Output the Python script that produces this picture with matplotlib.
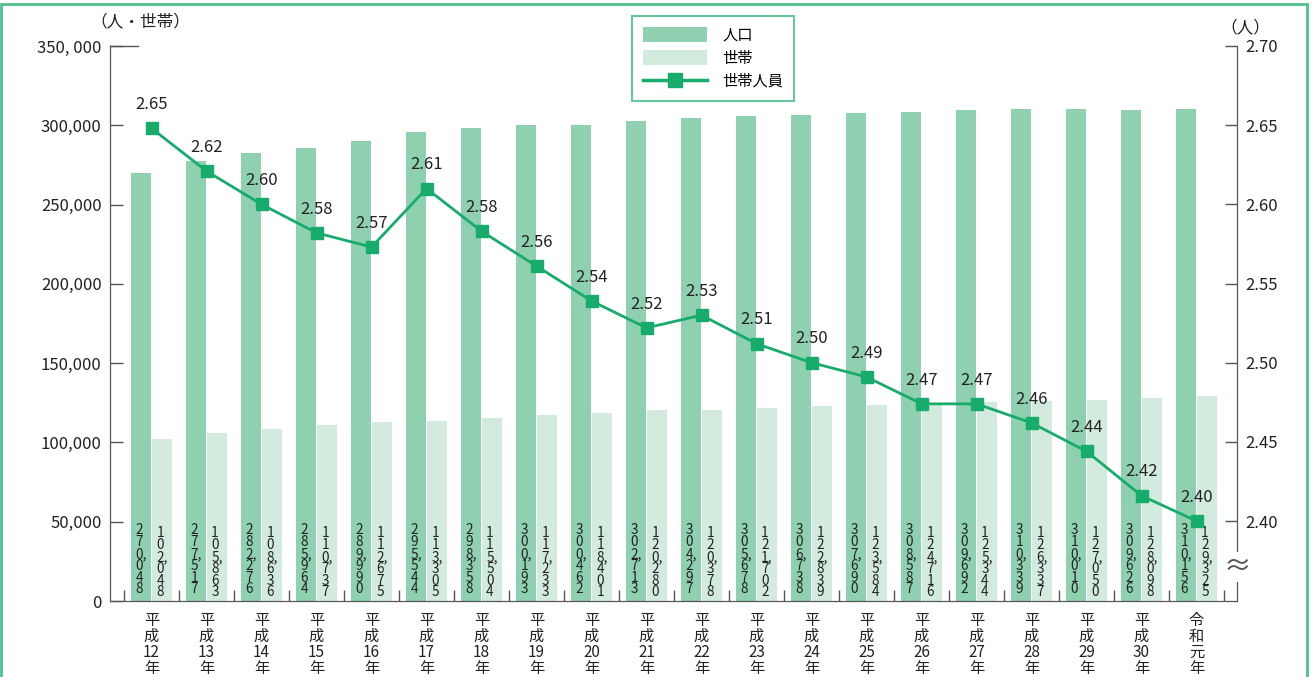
import numpy as np
import matplotlib
matplotlib.use("Agg")
import matplotlib.pyplot as plt
from matplotlib.patches import Rectangle, Patch
from matplotlib.lines import Line2D
import matplotlib.transforms as mtrans

plt.rcParams['font.family'] = ['Noto Sans CJK JP', 'DejaVu Sans']

years = ["平\n成\n12\n年", "平\n成\n13\n年", "平\n成\n14\n年", "平\n成\n15\n年", "平\n成\n16\n年",
         "平\n成\n17\n年", "平\n成\n18\n年", "平\n成\n19\n年", "平\n成\n20\n年", "平\n成\n21\n年",
         "平\n成\n22\n年", "平\n成\n23\n年", "平\n成\n24\n年", "平\n成\n25\n年", "平\n成\n26\n年",
         "平\n成\n27\n年", "平\n成\n28\n年", "平\n成\n29\n年", "平\n成\n30\n年", "令\n和\n元\n年"]
population = [270048, 277517, 282276, 285964, 289990, 295544, 298358, 300193, 300462, 302713,
              304297, 305678, 306738, 307690, 308587, 309692, 310339, 310010, 309626, 310156]
households = [102048, 105863, 108636, 110737, 112675, 113305, 115504, 117233, 118401, 120280,
              120378, 121702, 122839, 123584, 124716, 125344, 126337, 127050, 128098, 129325]
persons = [2.648, 2.621, 2.600, 2.582, 2.573, 2.610, 2.583, 2.561, 2.539, 2.522,
           2.530, 2.512, 2.500, 2.491, 2.474, 2.474, 2.462, 2.444, 2.416, 2.400]

c_pop = "#8fd0b1"
c_hh = "#d3ebdf"
c_line = "#17ab6c"
c_axis = "#555555"
c_text = "#222222"

fig = plt.figure(figsize=(13.13, 6.77), dpi=100)
ax = fig.add_axes([110 / 1313, 1 - 601 / 677, 1127 / 1313, 555 / 677])
ax2 = ax.twinx()

x = np.arange(len(years))
w = 0.36
ax.bar(x - 0.19, population, w, color=c_pop, zorder=1)
ax.bar(x + 0.19, households, w, color=c_hh, zorder=1)


# numbers written downward inside the bars, one digit per row
def stacked(v):
    s = f"{v:,}"
    out = []
    for ch in s:
        if ch == "," and out:
            out[-1] += ","
        else:
            out.append(ch)
    return "\n".join(out)


for i in x:
    ax.text(i - 0.19, 49000, stacked(population[i]), ha="center", va="top",
            fontsize=9.8, linespacing=0.8, color=c_text, multialignment="left", zorder=3)
    ax.text(i + 0.19, 47000, stacked(households[i]), ha="center", va="top",
            fontsize=9.8, linespacing=0.8, color=c_text, multialignment="left", zorder=3)

ax.set_xlim(-0.755, len(years) - 1 + 0.736)
ax.set_ylim(0, 350000)
ax.set_yticks(np.arange(0, 350001, 50000))
ylabels = ["0" if v == 0 else f"{v:,}" for v in range(0, 350001, 50000)]
ylabels[-1] = "350, 000"
ax.set_yticklabels(ylabels)
ax.tick_params(axis="y", direction="in", length=9, width=1, colors=c_axis,
               labelcolor=c_text, labelsize=12, pad=6)
ax.set_xticks(x)
ax.set_xticklabels(years, linespacing=0.92)
ax.tick_params(axis="x", length=0, labelsize=11, labelcolor=c_text, pad=8)
ax.set_xticks(np.arange(-0.5, len(years)), minor=True)
ax.tick_params(axis="x", which="minor", direction="in", length=8, width=1, colors=c_axis)

ax.spines["top"].set_visible(False)
ax2.spines["top"].set_visible(False)
for sp in ["left", "bottom", "right"]:
    ax.spines[sp].set_color(c_axis)
    ax2.spines[sp].set_color(c_axis)

# longer top tick on the left axis
trans = mtrans.blended_transform_factory(ax.transAxes, ax.transData)
ax.plot([0, 0.025], [350000, 350000], color=c_axis, lw=1, transform=trans, clip_on=False)

ax2.plot(x, persons, color=c_line, lw=2, marker="s", markersize=8.6, zorder=4)
for i in x:
    ax2.annotate(f"{persons[i]:.2f}", (i, persons[i]), xytext=(0, 11), textcoords="offset points",
                 ha="center", va="bottom", fontsize=12, color=c_text)
rticks = [2.40, 2.45, 2.50, 2.55, 2.60, 2.65, 2.70]
ax2.set_ylim(2.3495, 2.70)
ax2.set_yticks(rticks)
ax2.set_yticklabels([f"{v:.2f}" for v in rticks])
ax2.tick_params(axis="y", direction="in", length=9, width=1, colors=c_axis,
                labelcolor=c_text, labelsize=12, pad=6)

# axis break mark on the right axis
ax2.text(1.0, 2.371, "≈", transform=mtrans.blended_transform_factory(ax2.transAxes, ax2.transData),
         ha="center", va="center", fontsize=20, color=c_axis,
         bbox=dict(facecolor="white", edgecolor="none", pad=0.3))

fig.text(140 / 1313, 1 - 22 / 677, "（人・世帯）", ha="center", va="center", fontsize=12, color=c_text)
fig.text(1245 / 1313, 1 - 28 / 677, "（人）", ha="center", va="center", fontsize=12, color=c_text)

handles = [Patch(facecolor=c_pop, edgecolor="none"),
           Patch(facecolor=c_hh, edgecolor="none"),
           Line2D([], [], color=c_line, lw=2.5, marker="s", markersize=10)]
leg = fig.legend(handles, ["人口", "世帯", "世帯人員"], loc="upper left",
                 bbox_to_anchor=(632 / 1313, 1 - 16 / 677), frameon=True, fancybox=False,
                 fontsize=11, handlelength=4.2, handleheight=1.1, labelspacing=0.4,
                 borderpad=0.7, handletextpad=1.0, borderaxespad=0)
leg.get_frame().set_edgecolor("#3dbb80")
leg.get_frame().set_linewidth(1.5)

fig.patches.append(Rectangle((1 / 1313, -0.01), 1306 / 1313, 1 - 4 / 677 + 0.01,
                             transform=fig.transFigure, fill=False, edgecolor="#4cc08d", lw=2))

fig.savefig("out.png", dpi=100)
